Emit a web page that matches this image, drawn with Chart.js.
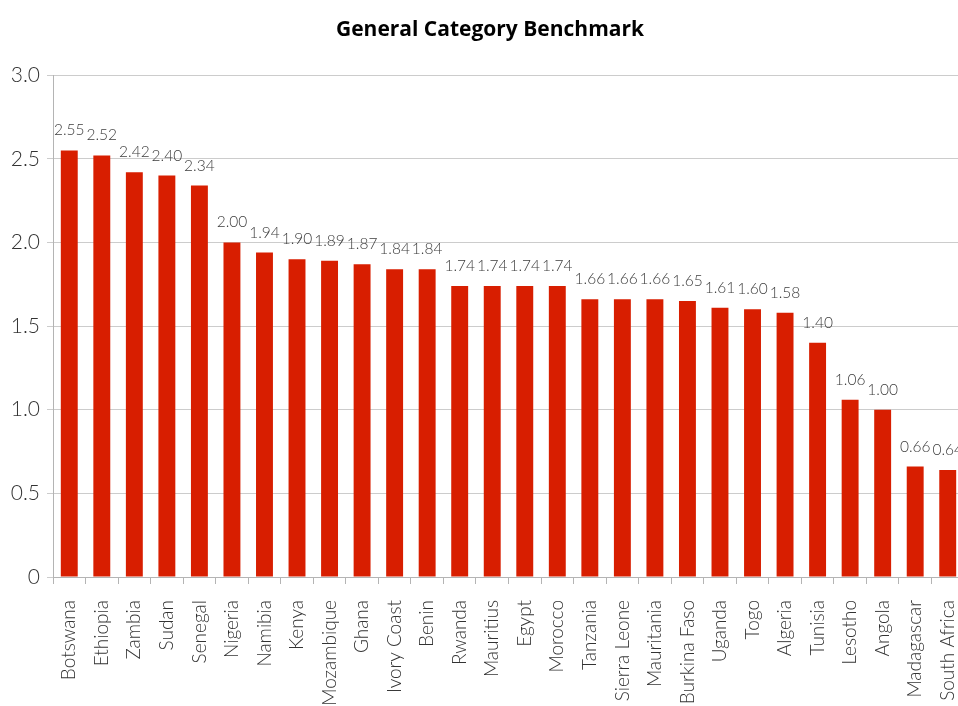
<!DOCTYPE html>
<html>
<head>
<meta charset="utf-8">
<script src="https://cdn.jsdelivr.net/npm/chart.js@4/dist/chart.umd.min.js"></script>
<style>
  html, body { margin: 0; padding: 0; overflow: hidden; background: #fff; }
  #wrap { position: relative; width: 980px; height: 706px; }
</style>
</head>
<body>
<div id="wrap"><canvas id="chart"></canvas></div>
<script>
// Benchmark scores per country
const countries = ["Botswana", "Ethiopia", "Zambia", "Sudan", "Senegal", "Nigeria", "Namibia", "Kenya",
  "Mozambique", "Ghana", "Ivory Coast", "Benin", "Rwanda", "Mauritius", "Egypt", "Morocco",
  "Tanzania", "Sierra Leone", "Mauritania", "Burkina Faso", "Uganda", "Togo", "Algeria", "Tunisia",
  "Lesotho", "Angola", "Madagascar", "South Africa"];
const scores = [2.55, 2.52, 2.42, 2.40, 2.34, 2.00, 1.94, 1.90, 1.89, 1.87, 1.84, 1.84, 1.74, 1.74,
  1.74, 1.74, 1.66, 1.66, 1.66, 1.65, 1.61, 1.60, 1.58, 1.40, 1.06, 1.00, 0.66, 0.64];
const yTicks = [0, 0.5, 1.0, 1.5, 2.0, 2.5, 3.0];

const FONT = "Lato, 'DejaVu Sans', sans-serif";
const TITLE_FONT = "'Open Sans', 'DejaVu Sans', sans-serif";

// Writes each bar's value above it
const valueLabels = {
  id: 'valueLabels',
  afterDatasetsDraw(chart) {
    const ctx = chart.ctx;
    const meta = chart.getDatasetMeta(0);
    ctx.save();
    ctx.font = "300 15.5px " + FONT;
    ctx.fillStyle = "#3c3c3c";
    ctx.textAlign = "center";
    ctx.textBaseline = "middle";
    meta.data.forEach((bar, i) => {
      ctx.fillText(scores[i].toFixed(2), bar.x, bar.y - 20);
    });
    ctx.restore();
  }
};

// Nudges the title a little to the right of the plot's centre
const titleShift = {
  id: 'titleShift',
  afterLayout(chart) {
    const t = chart.titleBlock;
    if (t) { t.left += 8; t.right += 8; }
  }
};

new Chart(document.getElementById('chart'), {
  type: 'bar',
  data: {
    labels: countries,
    datasets: [{
      data: scores,
      backgroundColor: '#d81e00',
      borderWidth: 0,
      categoryPercentage: 1.0,
      barPercentage: 0.52
    }]
  },
  options: {
    responsive: true,
    maintainAspectRatio: false,
    animation: false,
    layout: { padding: { left: 0, right: 16, top: 0, bottom: 0 } },
    plugins: {
      legend: { display: false },
      tooltip: { enabled: false },
      title: {
        display: true,
        text: 'General Category Benchmark',
        color: '#000',
        font: { family: TITLE_FONT, size: 21, weight: 'bold' },
        padding: { top: 17, bottom: 33 }
      }
    },
    scales: {
      x: {
        grid: {
          drawOnChartArea: false,
          color: '#b4b4b4',
          tickLength: 7,
          offset: true
        },
        border: { color: '#b4b4b4', width: 1 },
        ticks: {
          color: '#333333',
          font: { family: FONT, size: 19, weight: 300 },
          minRotation: 90,
          maxRotation: 90,
          autoSkip: false,
          padding: 16
        },
        afterFit(scale) {
          scale.height = 129;
          scale.paddingLeft = 0;
          scale.paddingRight = 0;
        }
      },
      y: {
        min: 0,
        max: 3,
        afterBuildTicks(scale) { scale.ticks = yTicks.map(v => ({ value: v })); },
        grid: { color: '#cccccc', tickLength: 6 },
        border: { color: '#b4b4b4', width: 1 },
        ticks: {
          color: '#333333',
          font: { family: FONT, size: 21, weight: 300 },
          padding: 7,
          callback: v => v === 0 ? '0' : v.toFixed(1)
        },
        afterFit(scale) { scale.width = 53; }
      }
    }
  },
  plugins: [valueLabels, titleShift]
});
</script>
</body>
</html>
